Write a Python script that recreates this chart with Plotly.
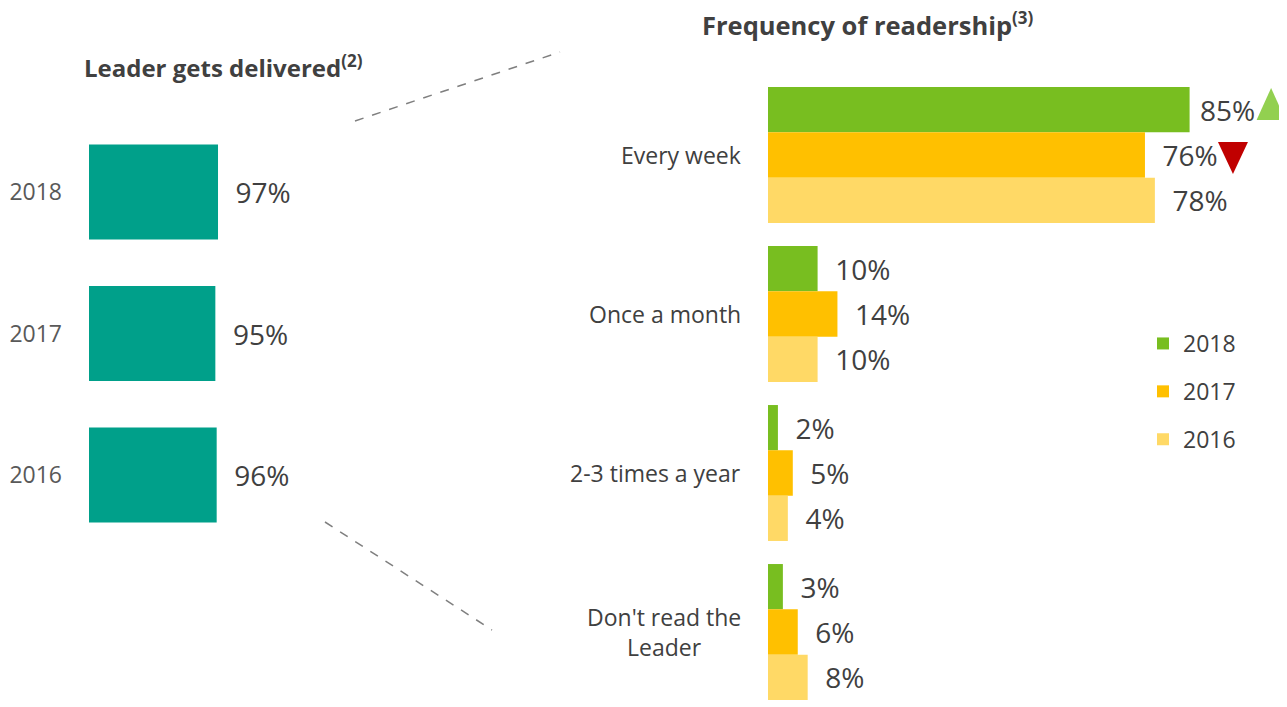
import plotly.graph_objects as go

# ---------------- data ----------------
delivered_years = ["2018", "2017", "2016"]
delivered_values = [97, 95, 96]

freq_categories = ["Every week", "Once a month", "2-3 times a year", "Don't read the<br>Leader"]
series_names = ["2018", "2017", "2016"]
values_2018 = [85, 10, 2, 3]
values_2017 = [76, 14, 5, 6]
values_2016 = [78, 10, 4, 8]

title_left = "Leader gets delivered<sup><span style='font-size:17px'>(2)</span></sup>"
title_right = "Frequency of readership<sup><span style='font-size:17px'>(3)</span></sup>"

# ---------------- styles ----------------
PAGE_W, PAGE_H = 1287, 707
OFF = 8  # default body margin of the page
W, H = PAGE_W - OFF, PAGE_H - OFF
FONT = "Open Sans"
TEXT = "#404040"
LABEL = "#595959"
TEAL = "#00A08A"
series_colors = ["#78BE20", "#FFC000", "#FFD966"]
NB = "\u00a0"

def px(xp):
    return (xp - OFF) / W

def py(yp):
    return 1 - (yp - OFF) / H

fig = go.Figure()

# left chart
fig.add_trace(go.Bar(
    x=delivered_values, y=delivered_years, orientation="h",
    marker=dict(color=TEAL, line=dict(width=0)),
    width=0.671, offset=-0.3355,
    text=[NB + NB + f"{v}%" for v in delivered_values],
    textposition="outside", constraintext="none", cliponaxis=False,
    textfont=dict(family=FONT, size=28, color=TEXT),
    xaxis="x", yaxis="y", showlegend=False, hoverinfo="skip",
))

# right chart
all_series = [values_2018, values_2017, values_2016]
for name, vals, col in zip(series_names, all_series, series_colors):
    texts = []
    for i, v in enumerate(vals):
        pad = NB if (name == "2018" and i == 0) else NB + NB
        texts.append(pad + f"{v}%")
    fig.add_trace(go.Bar(
        x=vals, y=freq_categories, orientation="h", name=name,
        marker=dict(color=col, line=dict(width=0)),
        text=texts, textposition="outside", constraintext="none", cliponaxis=False,
        textfont=dict(family=FONT, size=28, color=TEXT),
        xaxis="x2", yaxis="y2", legendgroup=name, hoverinfo="skip",
    ))

# right category labels
annotations = []
for c in freq_categories:
    annotations.append(dict(
        x=px(743), xref="paper", y=c, yref="y2", text=c, showarrow=False,
        xanchor="right", align="center",
        font=dict(family=FONT, size=23, color=TEXT),
    ))

annotations.append(dict(x=px(82), y=py(86), xref="paper", yref="paper", text=title_left,
                        showarrow=False, xanchor="left", yanchor="bottom",
                        font=dict(family=FONT, size=24, color=TEXT, weight="bold")))
annotations.append(dict(x=px(700), y=py(44), xref="paper", yref="paper", text=title_right,
                        showarrow=False, xanchor="left", yanchor="bottom",
                        font=dict(family=FONT, size=25.5, color=TEXT, weight="bold")))

shapes = [
    dict(type="line", xref="paper", yref="paper", x0=px(355), y0=py(121), x1=px(560), y1=py(52),
         line=dict(color="#7F7F7F", width=1.5, dash="dash")),
    dict(type="line", xref="paper", yref="paper", x0=px(325), y0=py(522), x1=px(492), y1=py(630),
         line=dict(color="#7F7F7F", width=1.5, dash="dash")),
    # change indicators next to "Every week"
    dict(type="path", xref="x2", yref="y2", xsizemode="pixel", ysizemode="pixel",
         xanchor=values_2018[0], yanchor=freq_categories[0],
         path="M67,35L96,35L81.5,67Z", fillcolor="#92D050", line=dict(width=0)),
    dict(type="path", xref="x2", yref="y2", xsizemode="pixel", ysizemode="pixel",
         xanchor=values_2017[0], yanchor=freq_categories[0],
         path="M73,13L103,13L88,-19Z", fillcolor="#C00000", line=dict(width=0)),
]

hidden_x = dict(showgrid=False, zeroline=False, showticklabels=False, showline=False, ticks="")
PX_PER_PCT = 4.96
RIGHT_X0 = 768

fig.update_layout(
    width=W, height=H,
    margin=dict(l=0, r=0, t=0, b=0),
    paper_bgcolor="white", plot_bgcolor="rgba(0,0,0,0)",
    barmode="group", bargap=0.145, bargroupgap=0,
    font=dict(family=FONT, color=TEXT),
    xaxis=dict(domain=[px(89), px(222)], range=[0, 100], anchor="y", **hidden_x),
    yaxis=dict(domain=[py(545.75), py(121.25)], type="category", range=[2.5, -0.5],
               anchor="x", showgrid=False, zeroline=False, showline=False, ticks="",
               ticklabelstandoff=26, tickfont=dict(family=FONT, size=23, color=LABEL)),
    xaxis2=dict(domain=[px(RIGHT_X0), 1], range=[0, (PAGE_W - RIGHT_X0) / PX_PER_PCT],
                anchor="y2", **hidden_x),
    yaxis2=dict(domain=[py(707), py(75.5)], type="category",
                range=[-0.5 + (707 - 75.5) / 159, -0.5], anchor="x2",
                showgrid=False, zeroline=False, showline=False, ticks="", showticklabels=False),
    legend=dict(x=px(1143), y=py(322), xanchor="left", yanchor="top",
                font=dict(family=FONT, size=23, color=TEXT), tracegroupgap=15,
                bgcolor="rgba(0,0,0,0)"),
    annotations=annotations,
    shapes=shapes,
)

fig.write_html("out.html")
